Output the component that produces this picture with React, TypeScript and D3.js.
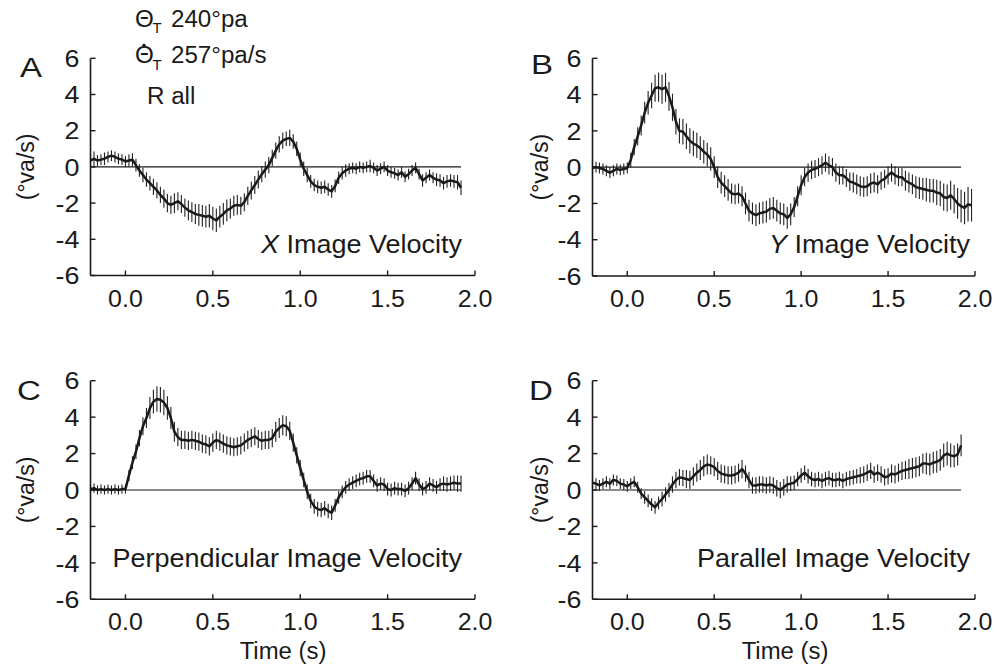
import React from "react";
import * as d3 from "d3";

// ---- Data ----
const timeStart = -0.2;
const timeStep = 0.02;

const xImageVel = [
  0.35, 0.45, 0.35, 0.40, 0.45, 0.55, 0.62, 0.55, 0.45, 0.40,
  0.30, 0.35, 0.40, 0.10, -0.20, -0.45, -0.70, -0.90, -1.10, -1.30,
  -1.55, -1.75, -2.00, -2.10, -2.00, -1.90, -2.05, -2.25, -2.40, -2.50,
  -2.60, -2.65, -2.70, -2.75, -2.70, -2.85, -2.95, -2.75, -2.60, -2.40,
  -2.30, -2.15, -2.10, -2.15, -1.95, -1.60, -1.30, -1.00, -0.70, -0.40,
  -0.15, 0.10, 0.50, 0.90, 1.25, 1.45, 1.55, 1.60, 1.40, 1.00,
  0.40, -0.10, -0.45, -0.80, -1.00, -1.10, -1.15, -1.10, -1.25, -1.35,
  -1.05, -0.60, -0.35, -0.20, -0.10, -0.05, -0.10, 0.00, -0.05, 0.00,
  0.05, -0.05, -0.20, -0.10, 0.00, -0.20, -0.30, -0.35, -0.45, -0.30,
  -0.55, -0.40, -0.20, -0.05, -0.40, -0.75, -0.60, -0.45, -0.60, -0.70,
  -0.75, -0.90, -0.80, -0.75, -0.80, -0.85, -1.15,
];
const xImageErr = [
  0.35, 0.4, 0.3, 0.3, 0.35, 0.3, 0.3, 0.3, 0.3, 0.3, 0.3, 0.35, 0.35,
  0.35, 0.35, 0.4, 0.4, 0.4, 0.45, 0.45, 0.45, 0.5, 0.5, 0.5, 0.55, 0.5,
  0.5, 0.5, 0.55, 0.55, 0.55, 0.6, 0.6, 0.6, 0.65, 0.65, 0.65, 0.6, 0.6,
  0.6, 0.55, 0.55, 0.55, 0.5, 0.5, 0.5, 0.5, 0.5, 0.5, 0.45, 0.45, 0.45,
  0.45, 0.45, 0.45, 0.45, 0.4, 0.45, 0.4, 0.4, 0.4, 0.4, 0.4, 0.35, 0.35,
  0.35, 0.35, 0.35, 0.35, 0.35, 0.35, 0.35, 0.35, 0.35, 0.3, 0.3, 0.3, 0.3,
  0.3, 0.3, 0.35, 0.3, 0.3, 0.3, 0.3, 0.3, 0.3, 0.3, 0.3, 0.3, 0.3,
  0.3, 0.3, 0.3, 0.3, 0.35, 0.3, 0.3, 0.3, 0.35, 0.35, 0.35, 0.35, 0.35,
  0.35, 0.4, 0.4,
];

const yImageVel = [
  -0.05, 0.00, -0.05, -0.10, -0.20, -0.30, -0.20, -0.10, -0.15, -0.10,
  -0.05, 0.40, 1.10, 1.70, 2.30, 3.00, 3.55, 3.95, 4.35, 4.40,
  4.30, 4.40, 3.90, 3.30, 2.50, 2.00, 1.95, 1.70, 1.45, 1.30,
  1.20, 1.05, 0.85, 0.70, 0.45, 0.00, -0.55, -0.85, -1.05, -1.25,
  -1.45, -1.50, -1.45, -1.60, -2.00, -2.40, -2.55, -2.65, -2.55, -2.50,
  -2.45, -2.30, -2.25, -2.40, -2.55, -2.60, -2.80, -2.60, -2.20, -1.60,
  -1.00, -0.55, -0.30, -0.15, -0.10, 0.00, 0.10, 0.25, 0.10, 0.00,
  -0.30, -0.45, -0.45, -0.60, -0.80, -0.85, -0.95, -1.05, -1.10, -1.05,
  -0.90, -0.85, -0.95, -0.75, -0.65, -0.45, -0.30, -0.45, -0.55, -0.55,
  -0.75, -0.85, -0.95, -1.10, -1.15, -1.20, -1.25, -1.30, -1.30, -1.40,
  -1.45, -1.65, -1.70, -1.55, -1.75, -2.00, -2.15, -2.25, -2.05, -2.10,
];
const yImageErr = [
  0.3, 0.3, 0.3, 0.3, 0.3, 0.3, 0.3, 0.3, 0.3, 0.3, 0.3,
  0.4, 0.45, 0.5, 0.55, 0.6, 0.65, 0.7, 0.75, 0.8, 0.8, 0.8, 0.8, 0.75, 0.7, 0.7,
  0.7, 0.7, 0.7, 0.7, 0.7, 0.65, 0.65, 0.65, 0.65, 0.6, 0.6, 0.6, 0.6, 0.6, 0.55,
  0.55, 0.55, 0.55, 0.6, 0.6, 0.6, 0.6, 0.6, 0.6, 0.6, 0.6, 0.6, 0.6, 0.6, 0.6,
  0.6, 0.6, 0.55, 0.55, 0.55, 0.5, 0.5, 0.5, 0.5, 0.5, 0.5, 0.5, 0.5, 0.5, 0.5,
  0.5, 0.5, 0.5, 0.5, 0.55, 0.55, 0.55, 0.55, 0.55, 0.55, 0.55, 0.5, 0.5, 0.5, 0.5,
  0.5, 0.5, 0.5, 0.5, 0.55, 0.55, 0.55, 0.6, 0.6, 0.6, 0.65, 0.65, 0.65, 0.7, 0.7,
  0.75, 0.75, 0.8, 0.8, 0.85, 0.9, 0.9, 0.95, 0.9,
];

const perpImageVel = [
  0.05, 0.10, 0.00, 0.05, 0.00, 0.05, 0.00, 0.05, 0.00, 0.05,
  0.05, 0.80, 1.50, 2.10, 2.85, 3.50, 3.95, 4.50, 4.85, 5.00,
  4.95, 4.80, 4.50, 3.95, 3.20, 2.90, 2.75, 2.75, 2.70, 2.75,
  2.70, 2.65, 2.55, 2.50, 2.40, 2.60, 2.75, 2.65, 2.55, 2.45,
  2.40, 2.35, 2.40, 2.45, 2.60, 2.75, 2.85, 2.95, 2.80, 2.70,
  2.75, 2.75, 2.85, 3.20, 3.40, 3.55, 3.50, 3.25, 2.60, 1.90,
  1.20, 0.55, -0.10, -0.60, -0.90, -1.05, -1.10, -1.00, -1.15, -1.25,
  -0.85, -0.40, -0.10, 0.15, 0.30, 0.40, 0.50, 0.60, 0.65, 0.75,
  0.75, 0.50, 0.25, 0.35, 0.30, 0.05, 0.00, 0.10, 0.05, 0.05,
  -0.05, 0.10, 0.35, 0.65, 0.30, 0.05, 0.15, 0.35, 0.25, 0.15,
  0.30, 0.35, 0.30, 0.35, 0.40, 0.35, 0.35,
];
const perpImageErr = [
  0.25, 0.25, 0.25, 0.25, 0.25, 0.25, 0.25, 0.25, 0.25, 0.25, 0.25,
  0.3, 0.35, 0.4, 0.45, 0.5, 0.55, 0.6, 0.65, 0.7, 0.7, 0.7, 0.65, 0.6, 0.55, 0.5,
  0.5, 0.5, 0.5, 0.5, 0.5, 0.5, 0.5, 0.5, 0.5, 0.5, 0.5, 0.5, 0.5, 0.5, 0.5,
  0.5, 0.5, 0.5, 0.5, 0.5, 0.5, 0.5, 0.5, 0.5, 0.5, 0.5, 0.5, 0.55, 0.55, 0.55,
  0.55, 0.5, 0.5, 0.45, 0.45, 0.4, 0.4, 0.4, 0.4, 0.4, 0.4, 0.4, 0.4, 0.4, 0.35,
  0.35, 0.35, 0.35, 0.35, 0.35, 0.35, 0.35, 0.35, 0.35, 0.35, 0.35, 0.35, 0.35, 0.35, 0.35,
  0.35, 0.35, 0.35, 0.35, 0.35, 0.35, 0.35, 0.35, 0.35, 0.35, 0.35, 0.35, 0.35, 0.35, 0.35,
  0.4, 0.4, 0.4, 0.4, 0.45, 0.45,
];

const paraImageVel = [
  0.40, 0.35, 0.25, 0.35, 0.45, 0.35, 0.55, 0.50, 0.35, 0.30,
  0.20, 0.35, 0.45, 0.15, -0.20, -0.40, -0.60, -0.80, -0.95, -0.70,
  -0.50, -0.25, 0.00, 0.30, 0.55, 0.70, 0.65, 0.60, 0.55, 0.75,
  0.95, 1.10, 1.30, 1.40, 1.35, 1.25, 1.05, 0.90, 0.85, 0.80,
  0.80, 0.85, 0.95, 1.15, 0.90, 0.55, 0.25, 0.25, 0.30, 0.30,
  0.25, 0.30, 0.25, 0.10, 0.00, 0.15, 0.30, 0.35, 0.40, 0.60,
  0.80, 0.95, 0.75, 0.60, 0.55, 0.60, 0.50, 0.60, 0.65, 0.55,
  0.55, 0.60, 0.50, 0.60, 0.65, 0.70, 0.75, 0.80, 0.85, 0.95,
  1.05, 0.85, 0.95, 0.85, 0.70, 0.75, 0.90, 0.85, 0.95, 1.05,
  1.10, 1.15, 1.20, 1.25, 1.30, 1.45, 1.45, 1.40, 1.50, 1.55,
  1.65, 1.90, 2.00, 1.90, 1.85, 1.95, 2.45,
];
const paraImageErr = [
  0.3, 0.3, 0.3, 0.3, 0.3, 0.3, 0.3, 0.3, 0.3, 0.3, 0.3,
  0.3, 0.3, 0.3, 0.3, 0.35, 0.35, 0.35, 0.35, 0.35, 0.4, 0.4, 0.4, 0.45, 0.45, 0.45,
  0.45, 0.5, 0.5, 0.5, 0.5, 0.55, 0.55, 0.55, 0.5, 0.5, 0.5, 0.5, 0.5, 0.5, 0.5,
  0.5, 0.5, 0.5, 0.45, 0.45, 0.45, 0.45, 0.45, 0.45, 0.45, 0.45, 0.45, 0.45, 0.45, 0.45,
  0.45, 0.4, 0.4, 0.4, 0.4, 0.4, 0.4, 0.4, 0.4, 0.4, 0.4, 0.4, 0.4, 0.4, 0.4,
  0.4, 0.4, 0.4, 0.4, 0.4, 0.4, 0.45, 0.45, 0.45, 0.45, 0.45, 0.45, 0.45, 0.45, 0.45,
  0.5, 0.5, 0.5, 0.5, 0.5, 0.55, 0.55, 0.55, 0.55, 0.55, 0.6, 0.6, 0.6, 0.6, 0.6,
  0.65, 0.65, 0.65, 0.6, 0.6, 0.6,
];

const yTickValues = [-6, -4, -2, 0, 2, 4, 6];
const xTickValues = [0, 0.5, 1.0, 1.5, 2.0];
const xDomain = [-0.2, 2.0];
const yDomain = [-6, 6];
const zeroLineEnd = 1.92;
const yAxisLabel = "(°va/s)";
const xAxisLabel = "Time (s)";

// ---- Layout ----
const FONT = "'Liberation Sans', Arial, Helvetica, sans-serif";
const INK = "#1a1a1a";

type PanelSpec = {
  letter: string;
  letterX: number;
  letterY: number;
  values: number[];
  errors: number[];
  titleItalic?: string;
  title: string;
  titleX: number;
  titleY: number;
  x0: number;
  x1: number;
  yTop: number;
  yBot: number;
  yLabelX: number;
  showTime: boolean;
  timeX: number;
};

const panels: PanelSpec[] = [
  {
    letter: "A", letterX: 20, letterY: 77, values: xImageVel, errors: xImageErr,
    titleItalic: "X", title: " Image Velocity", titleX: 462, titleY: 253,
    x0: 90.5, x1: 475, yTop: 58.3, yBot: 275.5, yLabelX: 34, showTime: false, timeX: 283,
  },
  {
    letter: "B", letterX: 531, letterY: 74, values: yImageVel, errors: yImageErr,
    titleItalic: "Y", title: " Image Velocity", titleX: 970, titleY: 253,
    x0: 592.5, x1: 975, yTop: 58.3, yBot: 276, yLabelX: 548, showTime: false, timeX: 785,
  },
  {
    letter: "C", letterX: 17, letterY: 400, values: perpImageVel, errors: perpImageErr,
    title: "Perpendicular Image Velocity", titleX: 462, titleY: 567,
    x0: 90.5, x1: 475, yTop: 380.7, yBot: 599.3, yLabelX: 34, showTime: true, timeX: 283,
  },
  {
    letter: "D", letterX: 529, letterY: 400, values: paraImageVel, errors: paraImageErr,
    title: "Parallel Image Velocity", titleX: 970, titleY: 567,
    x0: 592.5, x1: 975, yTop: 380.7, yBot: 599.3, yLabelX: 548, showTime: true, timeX: 785,
  },
];

function SText({
  x, y, sx = 1, size, anchor = "start", children, dy,
}: {
  x: number; y: number; sx?: number; size: number; anchor?: string; children: React.ReactNode; dy?: string;
}) {
  return (
    <text
      transform={`translate(${x},${y}) scale(${sx},1)`}
      textAnchor={anchor}
      fontSize={size}
      fontFamily={FONT}
      fill={INK}
      dy={dy}
    >
      {children}
    </text>
  );
}

function Panel({ p }: { p: PanelSpec }) {
  const x = d3.scaleLinear().domain(xDomain).range([p.x0, p.x1]);
  const y = d3.scaleLinear().domain(yDomain).range([p.yBot, p.yTop]);
  const pts = p.values.map((v, i) => ({
    t: timeStart + i * timeStep,
    v,
    e: p.errors[i] ?? 0.4,
  }));
  const line = d3
    .line<{ t: number; v: number }>()
    .x((d) => x(d.t))
    .y((d) => y(d.v));
  const axisX = x(xDomain[0]);
  const yMid = y(0);
  return (
    <g>
      <line x1={axisX} x2={x(zeroLineEnd)} y1={y(0)} y2={y(0)} stroke={INK} strokeWidth={1.2} />
      {pts.map((d, i) => (
        <line
          key={i}
          x1={x(d.t)}
          x2={x(d.t)}
          y1={y(d.v - d.e)}
          y2={y(d.v + d.e)}
          stroke="#222"
          strokeWidth={1.1}
        />
      ))}
      <path d={line(pts) ?? ""} fill="none" stroke={INK} strokeWidth={2.5} strokeLinejoin="round" />
      <line x1={axisX} x2={axisX} y1={y(6)} y2={y(-6)} stroke={INK} strokeWidth={1.6} />
      <line x1={axisX} x2={x(2.0)} y1={y(-6)} y2={y(-6)} stroke={INK} strokeWidth={1.6} />
      {yTickValues.map((v) => (
        <g key={"yt" + v}>
          <line x1={axisX} x2={axisX + 5} y1={y(v)} y2={y(v)} stroke={INK} strokeWidth={1.4} />
          <SText x={axisX - 11} y={y(v)} dy="0.36em" anchor="end" size={24} sx={1.12}>
            {v}
          </SText>
        </g>
      ))}
      {xTickValues.map((t) => (
        <g key={"xt" + t}>
          <line x1={x(t)} x2={x(t)} y1={y(-6)} y2={y(-6) - 5} stroke={INK} strokeWidth={1.4} />
          <SText x={x(t)} y={y(-6) + 31} anchor="middle" size={24} sx={1.04}>
            {d3.format(".1f")(t)}
          </SText>
        </g>
      ))}
      <text
        transform={`translate(${p.yLabelX},${yMid}) rotate(-90)`}
        textAnchor="middle"
        fontSize={23}
        fontFamily={FONT}
        fill={INK}
      >
        {yAxisLabel}
      </text>
      <SText x={p.letterX} y={p.letterY} size={28} sx={1.18}>
        {p.letter}
      </SText>
      <SText x={p.titleX} y={p.titleY} anchor="end" size={25} sx={1.08}>
        {p.titleItalic ? <tspan fontStyle="italic">{p.titleItalic}</tspan> : null}
        {p.title}
      </SText>
      {p.showTime && (
        <SText x={p.timeX} y={659} anchor="middle" size={23} sx={1.04}>
          {xAxisLabel}
        </SText>
      )}
    </g>
  );
}

export default function App() {
  return (
    <div style={{ position: "absolute", left: 0, top: 0 }}>
      <svg width={1008} height={669} viewBox="0 0 1008 669" style={{ display: "block", background: "#fff" }}>
        <rect x={0} y={0} width={1008} height={669} fill="#fff" />
        <g>
          <SText x={135} y={27} size={23} sx={1.05}>Θ</SText>
          <SText x={152.5} y={33} size={15}>T</SText>
          <SText x={171} y={27} size={23} sx={1.05}>240°pa</SText>
          <circle cx={144} cy={45.5} r={1.8} fill={INK} />
          <SText x={135} y={63} size={23} sx={1.05}>Θ</SText>
          <SText x={152.5} y={70} size={15}>T</SText>
          <SText x={171} y={63} size={23} sx={1.05}>257°pa/s</SText>
          <SText x={147} y={104} size={23} sx={1.05}>R all</SText>
        </g>
        {panels.map((p) => (
          <Panel key={p.letter} p={p} />
        ))}
      </svg>
    </div>
  );
}
